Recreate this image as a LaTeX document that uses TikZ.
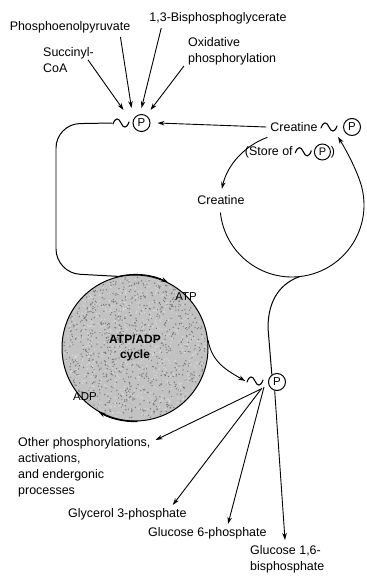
\documentclass[tikz,border=0pt]{standalone}
\usepackage{fontspec}
\setmainfont{Liberation Sans}
\usepackage{graphicx}
\usetikzlibrary{arrows.meta}
\newcommand\tld{\tikz[baseline=-4bp]\draw[line width=1.1pt,line cap=round] (0bp,-1bp) .. controls (2.4bp,5.6bp) and (5.6bp,5.6bp) .. (8bp,0bp) .. controls (10.4bp,-5.6bp) and (13.6bp,-5.6bp) .. (16bp,1bp);}
\newcommand\cpin{\tikz[baseline=(cpn.base)]\node[draw,circle,inner sep=0pt,minimum size=16bp,line width=1pt,font=\fontsize{11}{12}\selectfont](cpn){P};}
\begin{document}
\begin{tikzpicture}[x=1bp,y=-1bp,
  lbl/.style={font=\fontsize{12.5}{16}\selectfont,inner sep=0pt,align=left},
  tilde/.style={inner sep=0pt},
  pc/.style={draw,circle,minimum size=17bp,inner sep=0pt,line width=1pt,font=\fontsize{11.5}{12}\selectfont},
  arr/.style={-{Stealth[length=7bp,width=4.5bp]},line width=0.9pt},
  loopline/.style={line width=1pt}]
\useasboundingbox (0,0) rectangle (366,577);

% top sources
\node[lbl] (pep) at (70,27) {Phosphoenolpyruvate};
\node[lbl] (bpg) at (218,18) {1,3-Bisphosphoglycerate};
\node[lbl,anchor=north west] (suc) at (43,47) {Succinyl-\\CoA};
\node[lbl,anchor=north west] (ox) at (188,37) {Oxidative\\phosphorylation};

% top ~P
\node[tilde] (topT) at (121,123) {\tld};
\node[pc] (topP) at (141.5,123) {P};

% creatine
\node[lbl] (cre) at (294,127) {Creatine};
\node[tilde] (creT) at (329,127) {\tld};
\node[pc] (creP) at (352,127) {P};
\node[lbl] (store) at (290,152) {(Store of\,\tld\,\cpin)};
\node[lbl] (cre2) at (221,200) {Creatine};
\coordinate (rc) at (292,205);

% ATP/ADP cycle
\node[circle,draw,line width=1pt,minimum size=146bp,inner sep=0pt,fill=black!24] (cyc) at (135,348) {};
\pgfmathsetseed{7}
\foreach \i in {1,...,900}{
  \pgfmathsetmacro\ang{360*rnd}\pgfmathsetmacro\rad{71*sqrt(rnd)}
  \fill[black!55] (cyc.center) ++(\ang:\rad bp) circle[radius=0.7bp];}
\foreach \i in {1,...,700}{
  \pgfmathsetmacro\ang{360*rnd}\pgfmathsetmacro\rad{71*sqrt(rnd)}
  \fill[white!85!black] (cyc.center) ++(\ang:\rad bp) circle[radius=0.8bp];}
\node[font=\bfseries\fontsize{12}{15}\selectfont,align=center,inner sep=0pt] (cyct) at (135,348) {ATP/ADP\\cycle};
\node[lbl,font=\fontsize{11.5}{13}\selectfont] (atp) at (186,297) {ATP};
\node[lbl,font=\fontsize{11.5}{13}\selectfont] (adp) at (85,397) {ADP};

% bottom ~P
\node[tilde] (botT) at (255,381) {\tld};
\node[pc] (botP) at (277,382) {P};
\coordinate (fan) at (261,389);

% products
\node[lbl,anchor=north west] (oth) at (18,437) {Other phosphorylations,\\activations,\\and endergonic\\processes};
\node[lbl,anchor=west] (gly) at (68,514) {Glycerol 3-phosphate};
\node[lbl,anchor=west] (g6p) at (148,533) {Glucose 6-phosphate};
\node[lbl,anchor=north west] (g16) at (250,545) {Glucose 1,6-\\bisphosphate};

% arrows into top ~P
\draw[arr] ([xshift=-6bp]suc.east) -- ([xshift=-18bp,yshift=13bp]topP.center);
\draw[arr] ([xshift=-10bp,yshift=-4bp]pep.south east) -- ([xshift=-10bp,yshift=15bp]topP.center);
\draw[arr] ([xshift=12bp,yshift=-4bp]bpg.south west) -- ([xshift=0bp,yshift=15bp]topP.center);
\draw[arr] ([xshift=-4bp,yshift=-1bp]ox.south west) -- ([xshift=9bp,yshift=13bp]topP.center);
\draw[arr] ([xshift=-4bp]cre.west) -- ([xshift=7bp]topP.east);

% creatine cycle
\draw[arr] (rc) ++(110:72bp) arc[start angle=110, end angle=167, radius=72bp];
\draw[arr] (rc) ++(186:72bp) arc[start angle=186, end angle=380, radius=72bp]
   .. controls (354.6,165.9) and (345,148) .. ([xshift=-14bp,yshift=-10bp]creP.center);

% big loop from top ~P to ATP
\draw[loopline,rounded corners=24bp] (topT.west) -- (56,124) -- (56,273) -- (cyc.103);
\draw[arr,loopline] (cyc.103) arc[start angle=103, end angle=63, radius=73bp];
% ADP arrow
\draw[arr,line width=1.3pt] (cyc.-88) arc[start angle=-88, end angle=-120, radius=73bp];
% ATP -> bottom ~P
\draw[arr] (cyc.6) .. controls (212,362) and (226,370) .. ([xshift=-1bp]botT.west);
% creatine circle -> bottom ~P
\draw[loopline] (rc) ++(-84:72bp) .. controls (282,283) and (268,298) .. (268,328) -- (botP.125);

% fan of products
\draw[arr] (fan) -- ([xshift=5bp,yshift=-3bp]oth.north east);
\draw[arr] ([xshift=1bp,yshift=1bp]fan) -- ([xshift=-14bp,yshift=3bp]gly.north east);
\draw[arr] ([xshift=3bp,yshift=2bp]fan) -- ([xshift=80bp,yshift=3bp]g6p.north west);
\draw[arr] (botP.255) -- ([xshift=35bp,yshift=5bp]g16.north west);
\end{tikzpicture}
\end{document}
